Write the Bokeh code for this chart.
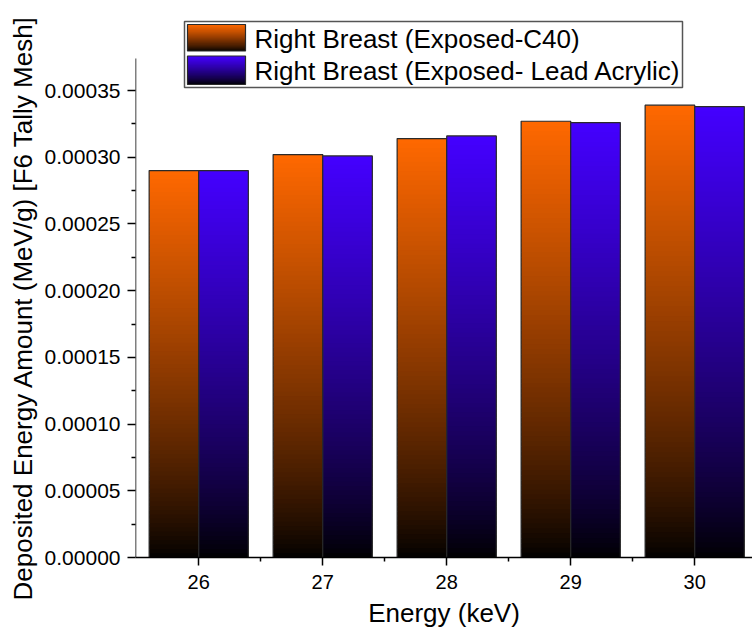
import numpy as np
from bokeh.plotting import figure
from bokeh.models import Range1d, FixedTicker, Title
from bokeh.core.properties import value
from bokeh.embed import file_html
from bokeh.resources import INLINE

# ---------------- data ----------------
energies = [26, 27, 28, 29, 30]
c40 = [0.000290, 0.000302, 0.000314, 0.000327, 0.000339]
lead = [0.000290, 0.000301, 0.000316, 0.000326, 0.000338]
series_names = ["Right Breast (Exposed-C40)", "Right Breast (Exposed- Lead Acrylic)"]
y_ticks = [0.0, 0.00005, 0.00010, 0.00015, 0.00020, 0.00025, 0.00030, 0.00035]
y_tick_labels = ["0.00000", "0.00005", "0.00010", "0.00015", "0.00020", "0.00025", "0.00030", "0.00035"]
y_minor = [0.000025, 0.000075, 0.000125, 0.000175, 0.000225, 0.000275, 0.000325]
x_minor = [26.5, 27.5, 28.5, 29.5]
y_axis_top = 0.000374
x_title = "Energy (keV)"
y_title = "Deposited Energy Amount (MeV/g) [F6 Tally Mesh]"

# ---------------- styling ----------------
FONT = "Liberation Sans"
ORANGE = np.array([255, 104, 0])
BLUE = np.array([68, 0, 255])
BAR_W = 0.4
GAMMA = 0.8

W, H = 752, 635
BL, BR, BT, BB = 135, 0, 10, 78
X0, X1 = 25.49, 30.466
Y0, Y1 = 0.0, 0.00041

p = figure(width=W, height=H, output_backend="svg", toolbar_location=None,
           x_range=Range1d(X0, X1), y_range=Range1d(Y0, Y1),
           min_border_left=BL, min_border_right=BR, min_border_top=BT, min_border_bottom=BB)
p.outline_line_color = None
p.xgrid.visible = False
p.ygrid.visible = False
p.background_fill_color = "white"
p.border_fill_color = "white"

fw = W - BL - BR
fh = H - BT - BB

def px_x(px):
    return X0 + (px - BL) / fw * (X1 - X0)

def px_y(py):
    return Y0 + (H - BB - py) / fh * (Y1 - Y0)

def hexcol(rgb):
    r, g, b = [int(round(v)) for v in rgb]
    return "#%02x%02x%02x" % (r, g, b)

def gradient_quads(lefts, rights, bottoms, tops, top_rgb, n_steps):
    L, R, B, T, C = [], [], [], [], []
    for l, r, b, t in zip(lefts, rights, bottoms, tops):
        edges = np.linspace(b, t, n_steps + 1)
        step = edges[1] - edges[0]
        for i in range(n_steps):
            f = ((i + 0.5) / n_steps) ** GAMMA
            L.append(l); R.append(r)
            B.append(edges[i])
            T.append(edges[i + 1] + (0.8 * step if i < n_steps - 1 else 0.0))
            C.append(hexcol(top_rgb * f))
    p.quad(left=L, right=R, bottom=B, top=T, fill_color=C, line_color=None)

# bars
xs = np.array(energies, dtype=float)
for vals, offs, rgb in [(c40, -BAR_W / 2, ORANGE), (lead, BAR_W / 2, BLUE)]:
    centers = xs + offs
    gradient_quads(centers - BAR_W / 2, centers + BAR_W / 2, [0.0] * len(vals), vals, rgb, 90)
    p.vbar(x=centers, width=BAR_W, top=vals, bottom=0, fill_color=None,
           line_color="#2a2a2a", line_width=1.2)

# axes
p.xaxis.ticker = FixedTicker(ticks=energies, minor_ticks=x_minor)
p.yaxis.ticker = FixedTicker(ticks=y_ticks, minor_ticks=y_minor)
p.yaxis.major_label_overrides = {t: s for t, s in zip(y_ticks, y_tick_labels)}
for ax in (p.xaxis[0], p.yaxis[0]):
    ax.axis_line_color = "black"
    ax.axis_line_width = 1.5
    ax.major_tick_line_color = "black"
    ax.major_tick_line_width = 1.5
    ax.minor_tick_line_color = "black"
    ax.minor_tick_line_width = 1.5
    ax.major_tick_out = 8
    ax.major_tick_in = 0
    ax.minor_tick_out = 4
    ax.minor_tick_in = 0
    ax.major_label_text_font = FONT
    ax.major_label_text_color = "black"
    ax.axis_label_text_font = FONT
    ax.axis_label_text_font_size = "26px"
    ax.axis_label_text_font_style = "normal"
    ax.axis_label_text_color = "black"
p.xaxis.major_label_text_font_size = "20px"
p.yaxis.major_label_text_font_size = "21px"
p.yaxis.axis_line_color = None
p.yaxis.major_label_standoff = 7
p.xaxis.major_label_standoff = 9
p.xaxis.axis_label_standoff = 6
p.xaxis.axis_label = x_title

# y title: a side title anchored at its start, pushed down below the frame bottom
p.add_layout(Title(text=y_title, align="left", offset=-43, standoff=8,
                   text_font=FONT, text_font_size="26px", text_font_style="normal",
                   text_color="black"), "left")

# left axis line up to axis top
p.segment(x0=[X0], y0=[0.0], x1=[X0], y1=[y_axis_top], line_color="black", line_width=1.5)

# legend (manual, gradient swatches)
box_l, box_r, box_t, box_b = 184, 682, 21, 87
p.quad(left=[px_x(box_l)], right=[px_x(box_r)], top=[px_y(box_t)], bottom=[px_y(box_b)],
       fill_color="white", line_color="#555555", line_width=1.5)
sw_l, sw_r = 187, 245
rows = [(24, 50.5), (55.5, 84)]
for (t, b), rgb, name in zip(rows, [ORANGE, BLUE], series_names):
    gradient_quads([px_x(sw_l)], [px_x(sw_r)], [px_y(b)], [px_y(t)], rgb, 26)
    p.quad(left=[px_x(sw_l)], right=[px_x(sw_r)], top=[px_y(t)], bottom=[px_y(b)],
           fill_color=None, line_color="#2a2a2a", line_width=1.2)
    p.text(x=[px_x(254)], y=[px_y((t + b) / 2 + 1)], text=[name],
           text_font=value(FONT), text_font_size=value("26px"), text_color="black",
           text_baseline="middle", text_align="left")

open("out.html", "w").write(file_html(p, INLINE))
